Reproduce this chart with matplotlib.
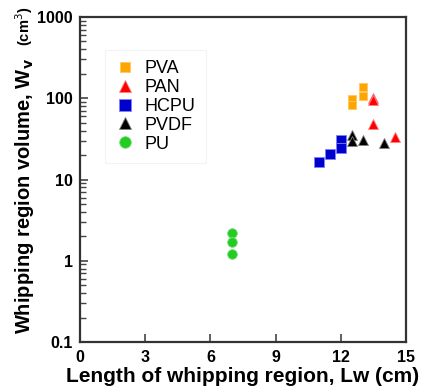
import matplotlib
matplotlib.use("Agg")
import matplotlib.pyplot as plt

plt.rcParams['font.family'] = ['Liberation Sans', 'DejaVu Sans']

# data
pva_x = [12.5, 12.5, 13.0, 13.0]
pva_y = [99, 82, 137, 107]
pan_x = [13.5, 13.5, 13.5, 14.5]
pan_y = [100, 95, 48, 33]
hcpu_x = [11.0, 11.5, 12.0, 12.0]
hcpu_y = [16.4, 20.8, 30.9, 24.7]
pvdf_x = [12.5, 12.5, 13.0, 14.0]
pvdf_y = [35, 30, 30.5, 28.4]
pu_x = [7.0, 7.0, 7.0]
pu_y = [2.2, 1.7, 1.2]

xticks = [0, 3, 6, 9, 12, 15]
yticks = [0.1, 1, 10, 100, 1000]
yticklabels = ['0.1', '1', '10', '100', '1000']

fig = plt.figure(figsize=(4.23, 3.89), dpi=100)
ax = fig.add_axes([80 / 423, 1 - 342 / 389, 326 / 423, 325 / 389])

ax.plot(pva_x, pva_y, 's', color='#ffa500', ms=6, mec='#ffc860', mew=0.6, label='PVA')
ax.plot(pan_x, pan_y, '^', color='#ff0000', ms=7, mec='#ff8080', mew=0.6, label='PAN')
ax.plot(hcpu_x, hcpu_y, 's', color='#0000cc', ms=7, mec='#8080ff', mew=0.6, label='HCPU')
ax.plot(pvdf_x, pvdf_y, '^', color='black', ms=7, mec='#808080', mew=0.6, label='PVDF')
ax.plot(pu_x, pu_y, 'o', color='#22cc22', ms=7, mec='#80e080', mew=0.6, label='PU')

ax.set_yscale('log')
ax.set_xlim(0, 15)
ax.set_ylim(0.1, 1000)
ax.set_xticks(xticks)
ax.set_xticklabels([str(t) for t in xticks], fontsize=11.5, fontweight='bold')
ax.set_yticks(yticks)
ax.set_yticklabels(yticklabels, fontsize=11.5, fontweight='bold')

ax.tick_params(which='major', direction='in', length=6, width=1.2, color='#444444',
               top=False, right=False)
ax.tick_params(axis='x', which='major', pad=6)
ax.tick_params(axis='y', which='major', pad=5)
ax.tick_params(which='minor', direction='in', length=4, width=1.0, color='#444444',
               top=False, right=False)
for s in ax.spines.values():
    s.set_linewidth(1.6)
    s.set_color('#333333')

ax.set_xlabel('Length of whipping region, Lw (cm)', fontsize=15, fontweight='bold', labelpad=1)

fig.text(25 / 423, 1 - 334 / 389, r'Whipping region volume, W$_\mathbf{v}$', rotation=90,
         fontsize=14.5, fontweight='bold', ha='center', va='bottom')
fig.text(24 / 423, 1 - 7 / 389, r'(cm$^3$)', rotation=90, fontsize=10.5,
         fontweight='bold', ha='center', va='top')

leg = ax.legend(loc='upper left', bbox_to_anchor=(0.065, 0.911), fontsize=13,
                frameon=True, handletextpad=0.6, labelspacing=0.1,
                borderpad=0.3, handlelength=1.0, markerscale=1.2)
leg.get_frame().set_edgecolor('#f0f0f0')
leg.get_frame().set_linewidth(0.8)
leg.get_frame().set_boxstyle('square')

fig.savefig('out.png', dpi=100)
